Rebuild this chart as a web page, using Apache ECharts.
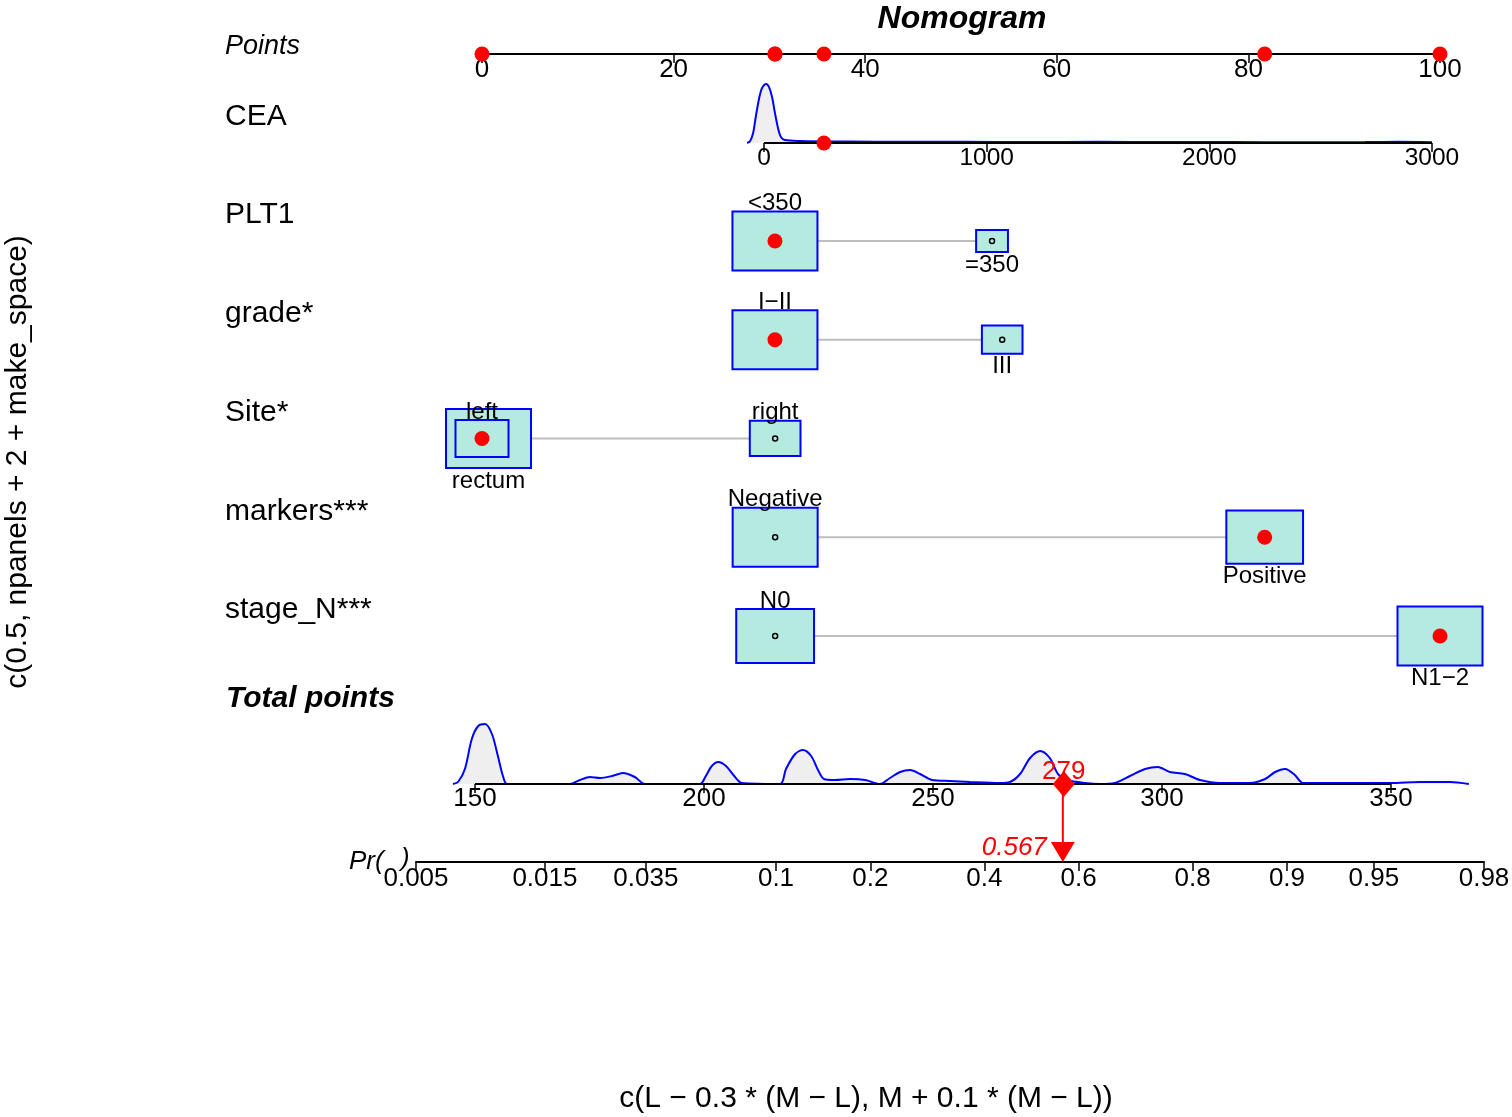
<!DOCTYPE html>
<html><head><meta charset="utf-8">
<script src="https://cdn.jsdelivr.net/npm/echarts@6/dist/echarts.min.js"></script>
<style>html,body{margin:0;padding:0;background:#fff}#c{width:1512px;height:1117px}</style>
</head><body><div id="c"></div>
<script>
// ---------------- data ----------------
const pointsTicks = [0, 20, 40, 60, 80, 100];
const ceaTicks = [0, 1000, 2000, 3000];
const totalTicks = [150, 200, 250, 300, 350];
const prTicks = [0.005, 0.015, 0.035, 0.1, 0.2, 0.4, 0.6, 0.8, 0.9, 0.95, 0.98];

// CEA scale: points at CEA = 0 and at CEA = 3000
const ceaPointsRange = [29.44, 99.16];
const ceaRange = [0, 3000];
const ceaValue = 269;

const ceaDensityX = [-76, -63, -49, -36, -22, -9, 9, 22, 36, 49, 63, 76, 94, 162, 386, 611, 900, 1200, 1500, 1800, 2100, 2400, 2700, 2850, 3000];
const ceaDensityY = [0, 0.03, 0.17, 0.47, 0.76, 0.93, 1.0, 0.95, 0.78, 0.51, 0.25, 0.1, 0.05, 0.035, 0.025, 0.02, 0.02, 0.018, 0.02, 0.015, 0.015, 0.012, 0.015, 0.02, 0.012];

const catVariables = ['PLT1', 'grade*', 'Site*', 'markers***', 'stage_N***'];
const PLT1Levels = ['<350', '=350'];
const PLT1Points = [30.58, 53.24];
const PLT1Freq = [0.877, 0.123];
const gradeLevels = ['I\u2212II', 'III'];
const gradePoints = [30.58, 54.3];
const gradeFreq = [0.814, 0.186];
const siteLevels = ['left', 'rectum', 'right'];
const sitePoints = [0, 0.68, 30.6];
const siteFreq = [0.223, 0.573, 0.204];
const markersLevels = ['Negative', 'Positive'];
const markersPoints = [30.6, 81.7];
const markersFreq = [0.551, 0.449];
const stageLevels = ['N0', 'N1\u22122'];
const stagePoints = [30.6, 100];
const stageFreq = [0.456, 0.544];
const selectedLevels = ['<350', 'I\u2212II', 'left', 'Positive', 'N1\u22122'];

const totalDensityX = [145.2,146.3,147.8,149.3,150.7,152.2,153.7,155.0,156.1,157.0,
  170.7,172.9,175.1,177.3,179.9,182.3,184.9,187.1,
  199.1,200.4,201.7,203.1,204.8,206.6,208.3,
  216.6,217.9,219.9,221.6,223.4,224.9,226.2,228.6,231.9,235.2,238.4,
  240.6,242.8,245.0,247.2,249.8,253.7,258.1,264.6,
  266.8,269.0,271.2,273.4,275.5,277.3,279.4,283.2,286.5,
  289.7,293.0,296.3,299.1,301.7,305.0,308.3,312.7,319.2,
  322.5,324.7,326.9,329.0,330.8,349.8,356.3,362.9,367.0];
const totalDensityY = [0,2,15,45,58,60,50,28,8,0,
  0,4,7,6,8,11,7,0,
  0,8,18,22,18,8,1,
  0,15,30,34,28,14,5,4,5,4,0,
  6,12,14,10,4,3,2,1,
  2,10,26,33,26,10,4,1,0,
  1,8,15,17,12,10,4,1,1,
  5,12,15,9,1,1,2,2,0];
const predictedPr = 0.567;

// ---------------- build ----------------
const FONT = '"Liberation Sans", Arial, Helvetica, sans-serif';
const catLevels = [PLT1Levels, gradeLevels, siteLevels, markersLevels, stageLevels];
const catPoints = [PLT1Points, gradePoints, sitePoints, markersPoints, stagePoints];
const catFreq = [PLT1Freq, gradeFreq, siteFreq, markersFreq, stageFreq];

const ceaToPts = v => ceaPointsRange[0] + (v - ceaRange[0]) / (ceaRange[1] - ceaRange[0]) * (ceaPointsRange[1] - ceaPointsRange[0]);
const ceaPts = ceaToPts(ceaValue);
const selectedPoints = [ceaPts];
const boxItems = [];
const connectors = [];
catLevels.forEach((levels, row) => {
  const pts = catPoints[row], fr = catFreq[row];
  const fmax = Math.max(...fr);
  const order = levels.map((_, i) => i).sort((a, b) => pts[a] - pts[b]);
  const rank = {};
  order.forEach((idx, r) => rank[idx] = r);
  const drawOrder = levels.map((_, i) => i).sort((a, b) => fr[b] - fr[a]);
  drawOrder.forEach(i => {
    const sel = selectedLevels[row] === levels[i];
    if (sel) selectedPoints.push(pts[i]);
    boxItems.push({ name: levels[i], value: [pts[i], row, fr[i] / fmax, rank[i] % 2 === 0 ? 1 : 0, sel ? 1 : 0] });
  });
  connectors.push([Math.min(...pts), Math.max(...pts), row]);
});
const totalPoints = selectedPoints.reduce((a, b) => a + b, 0);
const logit = p => Math.log(p / (1 - p));

// layout
const PX0 = 482, PXW = 958;              // points axis: 0..100
const TOT_X0 = 475, TOT_PX = 916 / 200;  // total points axis: x of 150, px per point
const BOX_W = 85, BOX_H = 59;

const ceaMin = Math.min(ceaDensityX[0], ceaRange[0]);
const ceaMax = Math.max(ceaDensityX[ceaDensityX.length - 1], ceaRange[1]);
const totMin = Math.min(totalDensityX[0], totalTicks[0]);
const totMax = Math.max(totalDensityX[totalDensityX.length - 1], totalTicks[totalTicks.length - 1]);

const axisCommon = (fs, margin, showLine) => ({
  type: 'value',
  axisLine: { show: showLine, onZero: false, lineStyle: { color: '#000', width: 2 } },
  axisTick: { show: true, length: 9, lineStyle: { color: '#000', width: 1.5 } },
  axisLabel: { show: true, color: '#000', fontSize: fs, fontFamily: FONT, margin: margin, showMinLabel: true, showMaxLabel: true },
  splitLine: { show: false },
  position: 'bottom'
});
const hiddenY = (gi, min, max, inv) => ({ type: 'value', gridIndex: gi, min, max, inverse: !!inv, show: false, splitLine: { show: false } });

const prVals = prTicks.map(logit);

const ceaAxis = axisCommon(24.5, 3, false);
Object.assign(ceaAxis, { gridIndex: 1, min: ceaMin, max: ceaMax });
ceaAxis.axisTick.customValues = ceaTicks;
ceaAxis.axisLabel.customValues = ceaTicks;
ceaAxis.axisLabel.formatter = v => String(Math.round(v));

const totAxis = axisCommon(26, 2, false);
Object.assign(totAxis, { gridIndex: 3, min: totMin, max: totMax });
totAxis.axisTick.customValues = totalTicks;
totAxis.axisLabel.customValues = totalTicks;
totAxis.axisLabel.formatter = v => String(Math.round(v));

const prAxis = axisCommon(26, 4, true);
Object.assign(prAxis, { gridIndex: 4, min: prVals[0], max: prVals[prVals.length - 1] });
prAxis.axisTick.customValues = prVals;
prAxis.axisLabel.customValues = prVals;
prAxis.axisLabel.formatter = v => {
  let best = 0, bd = Infinity;
  prVals.forEach((pv, i) => { const d = Math.abs(pv - v); if (d < bd) { bd = d; best = i; } });
  return String(prTicks[best]);
};

const ptsAxis = axisCommon(26, 3, true);
Object.assign(ptsAxis, { gridIndex: 0, min: pointsTicks[0], max: pointsTicks[pointsTicks.length - 1], interval: 20 });

const G = { containLabel: false, outerBoundsMode: 'none' };
const option = {
  animation: false,
  backgroundColor: '#fff',
  grid: [
    Object.assign({ left: PX0, width: PXW, top: 53, height: 1 }, G),
    Object.assign({ left: PX0 + ceaToPts(ceaMin) / 100 * PXW, width: (ceaToPts(ceaMax) - ceaToPts(ceaMin)) / 100 * PXW, top: 84, height: 59 }, G),
    Object.assign({ left: PX0, width: PXW, top: 191.6, height: 493.75 }, G),
    Object.assign({ left: TOT_X0 + (totMin - totalTicks[0]) * TOT_PX, width: (totMax - totMin) * TOT_PX, top: 724, height: 60 }, G),
    Object.assign({ left: 416, width: 1068, top: 784, height: 78 }, G)
  ],
  xAxis: [
    ptsAxis,
    ceaAxis,
    { type: 'value', gridIndex: 2, min: 0, max: 100, show: false, splitLine: { show: false } },
    totAxis,
    prAxis
  ],
  yAxis: [
    hiddenY(0, 0, 1),
    hiddenY(1, 0, Math.max(...ceaDensityY)),
    hiddenY(2, -0.5, catVariables.length - 0.5, true),
    hiddenY(3, 0, Math.max(...totalDensityY)),
    hiddenY(4, 0, 1)
  ],
  series: [
    // CEA density
    {
      type: 'line', xAxisIndex: 1, yAxisIndex: 1, silent: true, clip: false, z: 1,
      data: ceaDensityX.map((x, i) => [x, ceaDensityY[i]]),
      smooth: 0.3, symbol: 'none',
      lineStyle: { color: '#0000ff', width: 2 },
      areaStyle: { color: '#efefef', opacity: 1 }
    },
    // CEA axis line
    {
      type: 'line', xAxisIndex: 1, yAxisIndex: 1, silent: true, clip: false, z: 2,
      data: [[ceaRange[0], 0], [ceaRange[1], 0]], symbol: 'none',
      lineStyle: { color: '#000', width: 2 }
    },
    {
      type: 'scatter', xAxisIndex: 1, yAxisIndex: 1, silent: true, clip: false,
      data: [[ceaValue, 0]], symbolSize: 15, itemStyle: { color: '#ff0000', opacity: 1 }, z: 5
    },
    {
      type: 'scatter', xAxisIndex: 0, yAxisIndex: 0, silent: true, clip: false,
      data: selectedPoints.map(p => [p, 0]), symbolSize: 15, itemStyle: { color: '#ff0000', opacity: 1 }, z: 5
    },
    {
      type: 'custom', xAxisIndex: 2, yAxisIndex: 2, silent: true,
      data: connectors, encode: { x: [0, 1], y: 2 },
      renderItem: (params, api) => {
        const a = api.coord([api.value(0), api.value(2)]);
        const b = api.coord([api.value(1), api.value(2)]);
        return { type: 'line', shape: { x1: a[0], y1: a[1], x2: b[0], y2: b[1] }, style: { stroke: '#bebebe', lineWidth: 2 } };
      }
    },
    {
      type: 'custom', xAxisIndex: 2, yAxisIndex: 2, silent: true,
      data: boxItems, encode: { x: 0, y: 1 },
      renderItem: (params, api) => {
        const c = api.coord([api.value(0), api.value(1)]);
        const r = Math.sqrt(api.value(2));
        const w = BOX_W * r, h = BOX_H * r;
        const above = api.value(3) === 1;
        const sel = api.value(4) === 1;
        const name = boxItems[params.dataIndex].name;
        return {
          type: 'group',
          children: [
            { type: 'rect', shape: { x: c[0] - w / 2, y: c[1] - h / 2, width: w, height: h }, style: { fill: '#b4eae0', stroke: '#0000ff', lineWidth: 2 } },
            sel
              ? { type: 'circle', shape: { cx: c[0], cy: c[1], r: 7.5 }, style: { fill: '#ff0000' } }
              : { type: 'circle', shape: { cx: c[0], cy: c[1], r: 2.5 }, style: { fill: 'none', stroke: '#000', lineWidth: 1.5 } },
            { type: 'text', x: c[0], y: above ? c[1] - h / 2 + 4 : c[1] + h / 2 + 1,
              style: { text: name, fill: '#000', font: '24px ' + FONT, align: 'center', verticalAlign: above ? 'bottom' : 'top' } }
          ]
        };
      }
    },
    // total density
    {
      type: 'line', xAxisIndex: 3, yAxisIndex: 3, silent: true, clip: false, z: 1,
      data: totalDensityX.map((x, i) => [x, totalDensityY[i]]),
      smooth: 0.3, symbol: 'none',
      lineStyle: { color: '#0000ff', width: 2 },
      areaStyle: { color: '#efefef', opacity: 1 }
    },
    // total axis line
    {
      type: 'line', xAxisIndex: 3, yAxisIndex: 3, silent: true, clip: false, z: 2,
      data: [[totalTicks[0], 0], [totalTicks[totalTicks.length - 1], 0]], symbol: 'none',
      lineStyle: { color: '#000', width: 2 }
    },
    {
      type: 'line', xAxisIndex: 4, yAxisIndex: 4, silent: true, clip: false,
      data: [[logit(predictedPr), 1], [logit(predictedPr), 0.15]], symbol: 'none',
      lineStyle: { color: '#ff0000', width: 2 }, z: 4
    },
    {
      type: 'scatter', xAxisIndex: 3, yAxisIndex: 3, silent: true, clip: false,
      data: [[totalPoints, 0]], symbol: 'diamond', symbolSize: [22, 26],
      itemStyle: { color: '#ff0000', opacity: 1 }, z: 6,
      label: { show: true, position: 'top', distance: 0, offset: [0, 14], formatter: () => String(Math.round(totalPoints)),
        color: '#ff0000', fontSize: 26, fontFamily: FONT, opacity: 1 }
    },
    {
      type: 'scatter', xAxisIndex: 4, yAxisIndex: 4, silent: true, clip: false,
      data: [[logit(predictedPr), 0]], symbol: 'triangle', symbolRotate: 180, symbolSize: [24, 20], symbolOffset: [0, -10],
      itemStyle: { color: '#ff0000', opacity: 1 }, z: 6,
      label: { show: true, position: 'left', distance: 4, offset: [0, -4], formatter: () => String(predictedPr),
        color: '#ff0000', fontSize: 26, fontStyle: 'italic', fontFamily: FONT, opacity: 1 }
    }
  ],
  graphic: [
    { type: 'text', x: 962, y: 19, style: { text: 'Nomogram', font: 'italic bold 32px ' + FONT, fill: '#000', align: 'center', verticalAlign: 'middle' } },
    { type: 'text', x: 225, y: 46, style: { text: 'Points', font: 'italic 27px ' + FONT, fill: '#000', align: 'left', verticalAlign: 'middle' } },
    { type: 'text', x: 225, y: 117, style: { text: 'CEA', font: '30px ' + FONT, fill: '#000', align: 'left', verticalAlign: 'middle' } },
    ...catVariables.map((v, i) => ({ type: 'text', x: 225, y: 215 + i * 98.75, style: { text: v, font: '30px ' + FONT, fill: '#000', align: 'left', verticalAlign: 'middle' } })),
    { type: 'text', x: 226, y: 699, style: { text: 'Total points', font: 'italic bold 30px ' + FONT, fill: '#000', align: 'left', verticalAlign: 'middle' } },
    { type: 'text', x: 349, y: 862, style: { text: 'Pr(', font: 'italic 26px ' + FONT, fill: '#000', align: 'left', verticalAlign: 'middle' } },
    { type: 'text', x: 401, y: 859, style: { text: ')', font: 'italic 26px ' + FONT, fill: '#000', align: 'left', verticalAlign: 'middle' } },
    { type: 'text', x: 18, y: 462, rotation: Math.PI / 2, style: { text: 'c(0.5, npanels + 2 + make_space)', font: '30px ' + FONT, fill: '#000', align: 'center', verticalAlign: 'middle' } },
    { type: 'text', x: 866, y: 1099, style: { text: 'c(L \u2212 0.3 * (M \u2212 L), M + 0.1 * (M \u2212 L))', font: '30px ' + FONT, fill: '#000', align: 'center', verticalAlign: 'middle' } }
  ]
};
const chart = echarts.init(document.getElementById('c'), null, { renderer: 'canvas' });
chart.setOption(option);
</script>
</body></html>
